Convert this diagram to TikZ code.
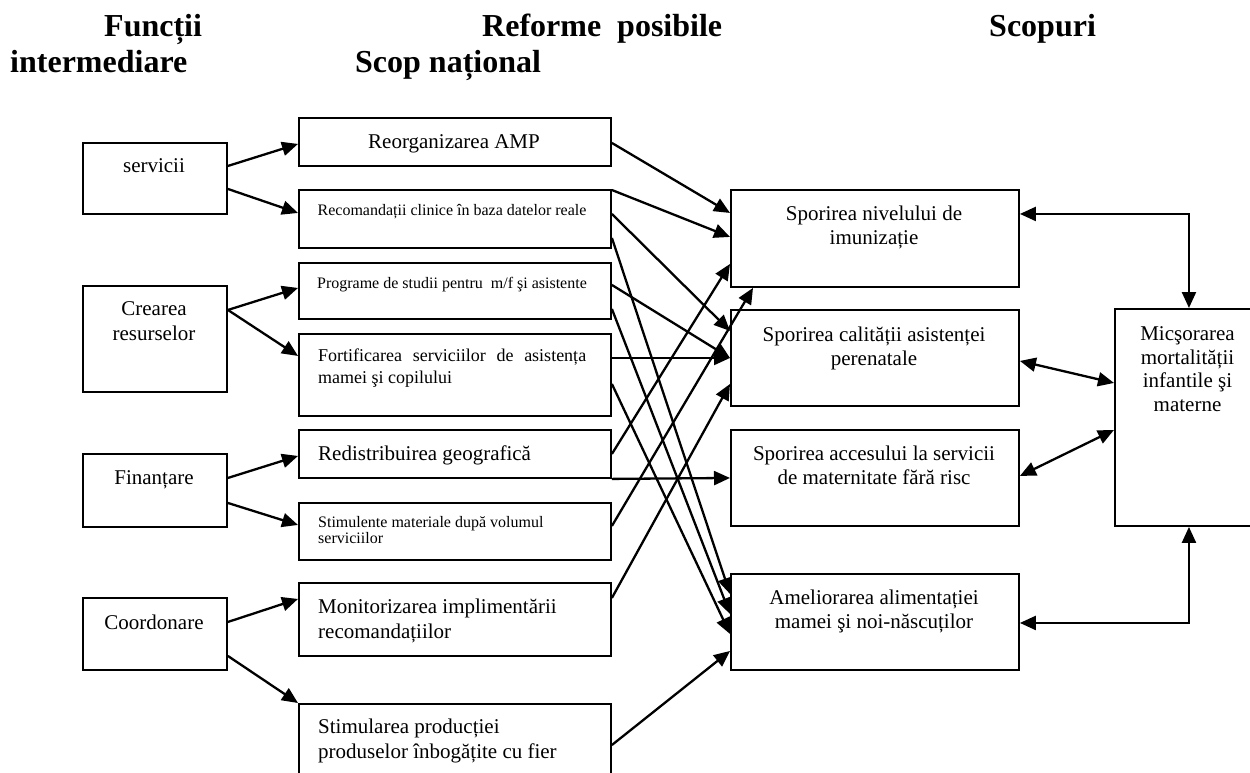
\documentclass[tikz,border=0pt]{standalone}
\usepackage{fontspec}
\setmainfont{Liberation Serif}
\usetikzlibrary{arrows.meta,calc}
\begin{document}
\begin{tikzpicture}[x=1pt,y=-1pt,
  box/.style={draw, line width=1.9pt, inner sep=0pt, anchor=north west},
  t21/.style={inner sep=0pt, anchor=north, align=center, font=\fontsize{21}{24.5}\selectfont},
  t21l/.style={inner sep=0pt, anchor=north west, align=left, font=\fontsize{21}{25}\selectfont},
  t16/.style={inner sep=0pt, anchor=north, align=center, font=\fontsize{16}{16.5}\selectfont},
  t16l/.style={inner sep=0pt, anchor=north west, align=left, font=\fontsize{16}{16.5}\selectfont},
  t18l/.style={inner sep=0pt, anchor=north west, align=left, font=\fontsize{18}{22}\selectfont},
  hd/.style={inner sep=0pt, anchor=north west, font=\fontsize{32}{35}\selectfont\bfseries},
  arr/.style={line width=2.3pt, -{Triangle[length=16pt,width=14pt]}},
  darr/.style={line width=2.3pt, {Triangle[length=16pt,width=14pt]}-{Triangle[length=16pt,width=14pt]}},
]
\useasboundingbox (0,0) rectangle (1250,772);
\clip (0,0) rectangle (1250,772);

% headers
\node[hd] (h1) at (104,14) {Funcții};
\node[hd] (h2) at (10,50) {intermediare};
\node[hd] (h3) at (482,14) {Reforme\ \ posibile};
\node[hd] (h4) at (355,50) {Scop național};
\node[hd] (h5) at (989,14) {Scopuri};

% left column
\node[box, minimum width=144pt, minimum height=71pt] (serv) at (82,142) {};
\node[box, minimum width=144pt, minimum height=106pt] (crea) at (82,285) {};
\node[box, minimum width=144pt, minimum height=73pt] (fin) at (82,453) {};
\node[box, minimum width=144pt, minimum height=72pt] (coord) at (82,597) {};
\node[t21] (tserv) at (154,158.5) {servicii};
\node[t21] (tcrea) at (154,301.5) {Crearea\\resurselor};
\node[t21] (tfin) at (154,470.5) {Finanțare};
\node[t21] (tcoord) at (154,614.5) {Coordonare};

% middle column
\node[box, minimum width=312pt, minimum height=48pt] (reorg) at (298,117) {};
\node[box, minimum width=312pt, minimum height=58pt] (recom) at (298,189) {};
\node[box, minimum width=312pt, minimum height=56pt] (prog) at (298,262) {};
\node[box, minimum width=312pt, minimum height=82pt] (fort) at (298,333) {};
\node[box, minimum width=312pt, minimum height=48pt] (redis) at (298,429) {};
\node[box, minimum width=312pt, minimum height=57pt] (stimu) at (298,502) {};
\node[box, minimum width=312pt, minimum height=73pt] (monit) at (298,582) {};
\node[box, minimum width=312pt, minimum height=100pt] (stimp) at (298,703) {};
\node[t21] (treorg) at (454,134.5) {Reorganizarea AMP};
\node[t16] (trecom) at (452,204) {Recomandații clinice în baza datelor reale};
\node[t16] (tprog) at (452,277) {Programe de studii pentru\ \ m/f şi asistente};
\node[t18l] (tfort) at (318,348.5) {\makebox[268pt][s]{Fortificarea serviciilor de asistența}\\mamei şi copilului};
\node[t21l] (tredis) at (318,445.5) {Redistribuirea geografică};
\node[t16l] (tstimu) at (318,516) {Stimulente materiale după volumul\\serviciilor};
\node[t21l] (tmonit) at (318,598.5) {Monitorizarea implimentării\\recomandațiilor};
\node[t21l] (tstimp) at (318,718.5) {Stimularea producției\\produselor înbogățite cu fier};

% right column
\node[box, minimum width=288pt, minimum height=97pt] (niv) at (730,189) {};
\node[box, minimum width=288pt, minimum height=96pt] (cal) at (730,309) {};
\node[box, minimum width=288pt, minimum height=96pt] (acc) at (730,429) {};
\node[box, minimum width=288pt, minimum height=96pt] (ame) at (730,573) {};
\node[box, minimum width=148pt, minimum height=217pt] (mic) at (1114,308) {};
\node[t21] (tniv) at (874,205.5) {Sporirea nivelului de\\imunizație};
\node[t21] (tcal) at (874,326.5) {Sporirea calității asistenței\\perenatale};
\node[t21] (tacc) at (874,445.5) {Sporirea accesului la servicii\\de maternitate fără risc};
\node[t21] (tame) at (874,589.5) {Ameliorarea alimentației\\mamei şi noi-născuților};
\node[inner sep=0pt, anchor=north, align=center, font=\fontsize{21}{23.5}\selectfont] (tmic) at (1187.5,326.5) {Micşorarea\\mortalității\\infantile şi\\materne};

% left -> middle
\draw[arr] ([yshift=12.5pt]serv.east) -- ([yshift=-2pt]reorg.west);
\draw[arr] ([yshift=-10.5pt]serv.east) -- ([yshift=6pt]recom.west);
\draw[arr] ([yshift=29pt]crea.east) -- ([yshift=3pt]prog.west);
\draw[arr] ([yshift=29pt]crea.east) -- ([yshift=19pt]fort.west);
\draw[arr] ([yshift=12.5pt]fin.east) -- ([yshift=-2pt]redis.west);
\draw[arr] ([yshift=-12.5pt]fin.east) -- ([yshift=6.5pt]stimu.west);
\draw[arr] ([yshift=12pt]coord.east) -- ([yshift=20.5pt]monit.west);
\draw[arr] ([yshift=-22pt]coord.east) -- (stimp.north west);

% middle -> right
\draw[arr] ([yshift=-1pt]reorg.east) -- ([yshift=25.5pt]niv.west);
\draw[arr] ([yshift=-1pt]recom.north east) -- ([yshift=1.5pt]niv.west);
\draw[arr] ([yshift=5pt]recom.east) -- ([yshift=27pt]cal.west);
\draw[arr] ([yshift=-19pt]recom.east) -- ([yshift=28pt]ame.west);
\draw[arr] ([yshift=6pt]prog.east) -- (cal.west);
\draw[arr] ([yshift=-18pt]prog.east) -- ([yshift=8pt]ame.west);
\draw[arr] (fort.east |- cal.west) -- (cal.west);
\draw[arr] ([yshift=-9pt]fort.east) -- ([yshift=-12pt]ame.west);
\draw[arr] (redis.east) -- ([yshift=-25.5pt]niv.west);
\draw[arr] (redis.south east) -- (acc.west);
\draw[arr] ([yshift=5.5pt]stimu.east) -- ([xshift=23pt]niv.south west);
\draw[arr] ([yshift=21.5pt]monit.east) -- ([yshift=-26pt]cal.west);
\draw[arr] ([yshift=-42pt]stimp.north east) -- ([yshift=-29pt]ame.west);

% right <-> goal
\draw[darr] ([yshift=24.5pt]niv.east) -| (mic.north);
\draw[darr] ([yshift=-3pt]cal.east) -- ([yshift=34.5pt]mic.west);
\draw[darr] ([yshift=2pt]acc.east) -- ([yshift=-12.5pt]mic.west);
\draw[darr] ([yshift=-1pt]ame.east) -| (mic.south);
\end{tikzpicture}
\end{document}
